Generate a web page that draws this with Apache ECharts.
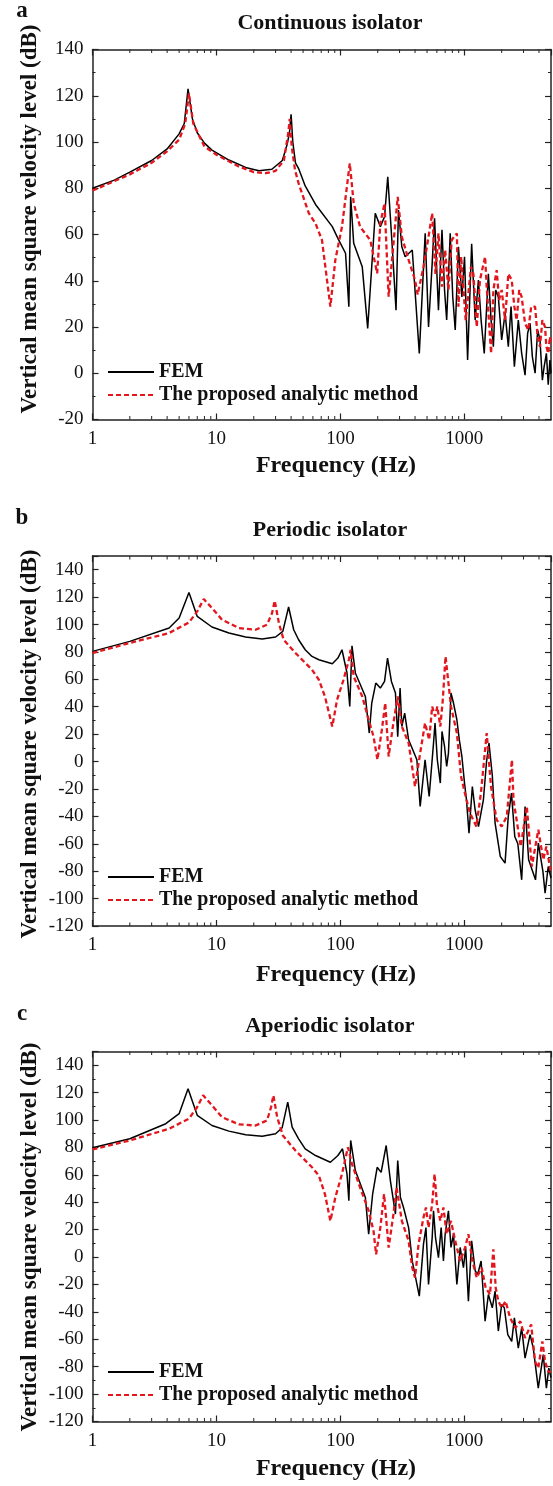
<!DOCTYPE html>
<html>
<head>
<meta charset="utf-8">
<script src="https://cdn.jsdelivr.net/npm/echarts@6/dist/echarts.min.js"></script>
<style>
html,body{margin:0;padding:0;background:#fff;}
#chart{width:553px;height:1486px;}
</style>
</head>
<body>
<div id="chart"></div>
<script>
// ---------------- DATA ----------------
const panelLetters = ['a', 'b', 'c'];
const panelTitles = ['Continuous isolator', 'Periodic isolator', 'Aperiodic isolator'];
const seriesNames = ['FEM', 'The proposed analytic method'];
const xLabel = 'Frequency (Hz)';
const yLabel = 'Vertical mean square velocity level (dB)';
const xRange = [1, 5000];
const yRanges = [[-20, 140], [-120, 150], [-120, 150]];
const yStep = 20;
const minorTicksHz = [2,3,4,5,6,7,8,9,20,30,40,50,60,70,80,90,200,300,400,500,600,700,800,900,2000,3000,4000];

// Panel a: continuous isolator
const contFEM = [[1,80],[1.5,83.5],[2,87],[3,92],[4,97],[5,103.5],[5.5,108],[5.9,123],[6.4,110],[7,104],[8,99.5],[9.2,96.5],[12.6,92.2],[17.2,89],[22,87.6],[28,88.2],[34,92],[37.2,99],[38.8,104],[40,112],[41.3,100],[43.4,91],[46,88.5],[52,81],[63,73],[86,63.4],[97,57.6],[110,51.9],[117,28.8],[121,76.3],[128,56.2],[150,46.1],[166,19.4],[191,69.2],[210,63.4],[227,67.7],[241,85],[260,57.6],[281,27.3],[294,70.6],[313,54.7],[333,50.4],[380,53.3],[433,8.6],[483,60.5],[514,20],[550,47.5],[575,67],[618,27.3],[660,62],[692,36],[720,23],[769,60.5],[806,33],[844,18.7],[896,54.7],[955,33],[1003,50.4],[1062,5.7],[1145,56],[1222,23],[1298,40.3],[1365,23],[1447,8.6],[1562,43],[1643,23],[1714,11.5],[1790,36],[1880,33],[2000,14.4],[2131,26],[2263,11.5],[2380,28.8],[2532,2.8],[2724,23],[2900,8.6],[3088,-0.8],[3240,17.3],[3390,21.6],[3535,7.2],[3720,0],[3900,18.7],[4076,14.4],[4260,-3],[4400,2.8],[4590,8.6],[4750,-5],[4900,5.7],[5000,0]];
const contANA = [[1,79],[2,86],[3,91],[4,96],[5,101],[5.6,108],[6,121],[6.5,108],[8,98],[10,94.5],[15,89.5],[20,87],[25,86.5],[30,87.5],[35,92],[38,104],[39,110],[40.5,98],[43,88],[46,82.1],[55.6,69.2],[63,64.8],[71,57.6],[83,28.8],[91,49],[103,63.4],[119,90.8],[128,73.5],[144,63.4],[174,57.6],[198,43.2],[210,64.8],[227,73.5],[245,33.1],[290,76.3],[313,59],[355,49],[400,40.3],[420,34],[468,46],[514,59],[550,69.2],[585,43],[618,60.5],[660,37.4],[700,53.3],[744,36],[790,57.6],[870,60.5],[896,28.8],[942,50.4],[1025,23],[1078,34.6],[1130,46],[1183,43],[1259,20],[1336,40.3],[1470,50.4],[1514,37.4],[1643,8.6],[1714,36],[1823,44.6],[1905,31.7],[2000,36],[2131,23],[2263,43],[2410,40.3],[2532,28.8],[2641,23],[2770,36],[2900,33],[3088,21.6],[3279,18.7],[3460,28.8],[3720,28.8],[3900,15.8],[4076,11.5],[4260,23],[4477,20],[4590,11.5],[4750,8.6],[4900,15.8],[5000,12]];

// Panel b: periodic isolator
const periFEM = [[1,80.4],[2,87.7],[4.15,97.4],[5,104.7],[6,123.4],[7,105.9],[9.2,98.2],[12.6,93.8],[17.2,90.9],[23.4,89.4],[30,90.9],[34.3,95],[38.2,112.8],[42,96.2],[46,88.9],[52,81.6],[59,76.7],[67,74.3],[86,71.4],[95.5,75.5],[103,81.6],[113,64.6],[119,40.2],[124,84.5],[132,64.6],[159,47.5],[171,20.8],[179,42.7],[193,57.3],[210,53.6],[227,58.5],[240,75.5],[258,58.5],[278,50],[290,18.1],[303,53.6],[313,25.6],[330,35.4],[355,15.9],[414,1.3],[440,-32.8],[482,1.3],[520,-25.5],[564,13.5],[580,28.1],[605,1.3],[640,-15.7],[660,22],[692,11],[720,-3.6],[744,6.2],[780,50],[817,42.7],[870,30.5],[910,16],[955,3.7],[1003,-15.7],[1040,-27.9],[1090,-52.2],[1160,-18.2],[1220,-35],[1300,-47.4],[1424,-27.9],[1510,0],[1580,13.5],[1680,-10],[1770,-44.9],[1950,-69.3],[2130,-74.1],[2260,-40],[2400,-23],[2550,-54.7],[2700,-60],[2900,-86.3],[3090,-32.8],[3300,-71.7],[3750,-86.3],[3950,-59.5],[4300,-80],[4480,-96],[4750,-76.6],[5000,-85]];
const periANA = [[1,79.2],[2,86.5],[4.15,93.8],[6,101.5],[7,109.6],[7.9,118.6],[9.2,112],[11.1,103.5],[15.2,97.4],[20.7,96.2],[25.6,99.9],[28.1,108.4],[29.5,117.4],[31.9,101.1],[34.8,88.9],[43.4,79.2],[59,67],[67,59.7],[75,47.5],[86,25.6],[94,45.1],[106,59.7],[117,74.3],[121,81.6],[128,62.1],[150,47.5],[169,30.5],[185,18.3],[199,1.3],[216,23.2],[230,42.7],[245,3.7],[265,25.6],[290,47.5],[313,25.6],[355,13.5],[400,-18.2],[440,6.2],[482,28.1],[520,15.9],[550,40.2],[580,32.9],[605,40.2],[640,25.6],[670,45.1],[705,76.7],[744,57.3],[780,40.2],[870,20.8],[940,-10.9],[1040,-27.9],[1110,-37.6],[1250,-47.4],[1360,-23],[1514,20.8],[1640,-18.2],[1820,-42.5],[2000,-47.4],[2200,-40],[2420,1.3],[2490,-27.9],[2850,-62],[3190,-32.8],[3500,-76.6],[3950,-49.8],[4330,-71.7],[4590,-62],[5000,-81.4]];

// Panel c: aperiodic isolator
const aperFEM = [[1,79.7],[2,86.3],[3.9,97.3],[5,104.6],[5.9,122.9],[7,103.4],[9.2,96],[12.6,91.9],[17.2,89.2],[23.4,88.2],[30,90],[33.9,94.4],[37.6,113.1],[40.8,94.8],[46,86.3],[52,79],[63,74.1],[83,69.2],[95.5,74.1],[104,79],[113,60.7],[117,41.1],[121,85.1],[132,63.1],[159,43.5],[169,16.7],[182,46],[198,65.5],[213,61.8],[234,81.4],[253,55.8],[278,31.4],[290,70.4],[305,43.5],[323,36.2],[355,21.5],[380,-2.9],[433,-28.5],[468,9.4],[490,21.5],[514,-20],[550,14.2],[564,33.8],[585,14.2],[618,-0.4],[650,21.5],[678,-2.9],[700,16.7],[744,33.8],[780,7],[817,16.7],[870,-20],[925,7],[983,-7.8],[1025,7],[1078,-32.2],[1145,11.8],[1222,-10],[1280,-12.6],[1365,-2.9],[1470,-46.8],[1562,-27.3],[1680,-37],[1770,-24.8],[1880,-54],[2000,-34.6],[2100,-37],[2240,-56.6],[2410,-61.5],[2532,-44.4],[2724,-66.4],[2900,-51.7],[3088,-73.7],[3390,-56.6],[3597,-66.4],[3946,-95.7],[4330,-71.2],[4590,-95.7],[4800,-81],[5000,-88]];
const aperANA = [[1,78.5],[2,85.1],[4.15,93.6],[6,101],[7,109.5],[7.8,118],[9.2,110.7],[11.1,102.1],[15.2,96.8],[20.7,96],[25.6,99.7],[27.6,109.5],[28.8,118],[30.9,102.1],[34.3,88.7],[43.4,77.7],[59,65.5],[67,59.4],[75,46],[83,26.4],[91,43.5],[103,60.7],[115,80.1],[124,68],[144,50.8],[169,33.8],[185,19.1],[194,2],[210,21.5],[225,46],[245,6.9],[268,31.4],[284,50.8],[313,26.4],[355,11.8],[380,-7.8],[400,-15.1],[427,9.4],[468,28.9],[490,36.2],[514,21.5],[550,38.7],[575,60.7],[600,38.7],[640,26.4],[678,36.2],[720,16.7],[780,26.4],[844,11.8],[925,-2.9],[1015,7],[1078,16.7],[1161,-2.9],[1259,-15.1],[1380,-7.8],[1485,-22.4],[1610,-27.3],[1714,5.7],[1790,-22.4],[1880,-32.2],[2000,-37],[2150,-32.2],[2340,-44.4],[2580,-51.7],[2830,-46.8],[3088,-59],[3460,-49.2],[3720,-76.1],[3946,-81],[4260,-61.5],[4477,-76.1],[4750,-83.5],[5000,-84]];

const femData = [contFEM, periFEM, aperFEM];
const anaData = [contANA, periANA, aperANA];

// ---------------- LAYOUT / STYLE ----------------
const FONT = '"Liberation Serif", "Times New Roman", serif';
const INK = '#111';
const RED = '#e3161e';
const gridTops = [49.5, 556, 1051.5];
const plotH = 370;
const gridLeft = 92.5, gridRight = 2;
const legendTops = [362, 867, 1362];
const titleY = [23, 530, 1026];
const letterY = [11, 518, 1014];
const xNameY = [466, 975, 1469];
const yNameY = [219, 744, 1237];

const chart = echarts.init(document.getElementById('chart'), null, {renderer: 'canvas'});

const grid = [], xAxis = [], yAxis = [], series = [], legend = [], graphic = [];
const axisLine = {show: true, onZero: false, lineStyle: {color: '#222', width: 1.5}};

for (let i = 0; i < 3; i++) {
  grid.push({left: gridLeft, right: gridRight, top: gridTops[i], height: plotH, containLabel: false});
  const [ymin, ymax] = yRanges[i];
  xAxis.push({
    type: 'log', logBase: 10, gridIndex: i, min: xRange[0], max: xRange[1], position: 'bottom',
    axisLine, splitLine: {show: false},
    axisTick: {inside: true, length: 6, lineStyle: {color: '#222', width: 1.2}},
    axisLabel: {fontFamily: FONT, fontSize: 19, color: INK, margin: 10, showMaxLabel: false,
      formatter: v => String(Math.round(v))}
  });
  xAxis.push({
    type: 'log', logBase: 10, gridIndex: i, min: xRange[0], max: xRange[1], position: 'top',
    axisLine, splitLine: {show: false},
    axisTick: {inside: true, length: 6, lineStyle: {color: '#222', width: 1.2}},
    axisLabel: {show: false}
  });
  yAxis.push({
    type: 'value', gridIndex: i, min: ymin, max: ymax, interval: yStep, position: 'left',
    axisLine, splitLine: {show: false},
    axisTick: {inside: true, length: 6, lineStyle: {color: '#222', width: 1.2}},
    minorTick: {show: true, splitNumber: 2, length: 3, lineStyle: {color: '#222', width: 1}},
    axisLabel: {fontFamily: FONT, fontSize: 19, color: INK, margin: 9, showMaxLabel: ymax % yStep === 0,
      formatter: v => (v % yStep === 0 ? String(v) : '')}
  });
  yAxis.push({
    type: 'value', gridIndex: i, min: ymin, max: ymax, interval: yStep, position: 'right',
    axisLine, splitLine: {show: false},
    axisTick: {inside: true, length: 6, lineStyle: {color: '#222', width: 1.2}},
    minorTick: {show: true, splitNumber: 2, length: 3, lineStyle: {color: '#222', width: 1}},
    axisLabel: {show: false}
  });

  series.push({
    name: seriesNames[0], type: 'line', xAxisIndex: 2 * i, yAxisIndex: 2 * i,
    data: femData[i], showSymbol: false, symbol: 'none', clip: true,
    lineStyle: {color: '#000', width: 1.5}, itemStyle: {color: '#000'}, z: 3
  });
  series.push({
    name: seriesNames[1], type: 'line', xAxisIndex: 2 * i, yAxisIndex: 2 * i,
    data: anaData[i], showSymbol: false, symbol: 'none', clip: true,
    lineStyle: {color: RED, width: 2.3, type: [5, 3]}, itemStyle: {color: RED}, z: 4
  });
  series.push({
    type: 'custom', xAxisIndex: 2 * i, yAxisIndex: 2 * i, silent: true, clip: false, z: 5,
    data: minorTicksHz.map(v => [v, ymin]),
    renderItem: (params, api) => {
      const v = api.value(0);
      const b = api.coord([v, ymin]);
      const t = api.coord([v, ymax]);
      return {type: 'group', children: [
        {type: 'line', shape: {x1: b[0], y1: b[1], x2: b[0], y2: b[1] - 3.5}, style: {stroke: '#222', lineWidth: 1}},
        {type: 'line', shape: {x1: t[0], y1: t[1], x2: t[0], y2: t[1] + 3.5}, style: {stroke: '#222', lineWidth: 1}}
      ]};
    }
  });

  legend.push({
    orient: 'vertical', left: 107, top: legendTops[i], padding: 0, itemGap: 3,
    itemWidth: 46, itemHeight: 14, selectedMode: false, data: seriesNames,
    itemStyle: {opacity: 0},
    textStyle: {fontFamily: FONT, fontWeight: 'bold', fontSize: 20, color: INK, lineHeight: 20}
  });

  graphic.push(
    {type: 'text', x: 22, y: letterY[i], style: {text: panelLetters[i], font: 'bold 23px ' + FONT, fill: INK, align: 'center', verticalAlign: 'middle'}},
    {type: 'text', x: 330, y: titleY[i], style: {text: panelTitles[i], font: 'bold 22px ' + FONT, fill: INK, align: 'center', verticalAlign: 'middle'}},
    {type: 'text', x: 336, y: xNameY[i], style: {text: xLabel, font: 'bold 24px ' + FONT, fill: INK, align: 'center', verticalAlign: 'middle'}},
    {type: 'text', x: 30, y: yNameY[i], rotation: Math.PI / 2, style: {text: yLabel, font: 'bold 23px ' + FONT, fill: INK, align: 'center', verticalAlign: 'middle'}}
  );
}

chart.setOption({
  animation: false,
  backgroundColor: '#fff',
  grid, xAxis, yAxis, series, legend, graphic
});
</script>
</body>
</html>
